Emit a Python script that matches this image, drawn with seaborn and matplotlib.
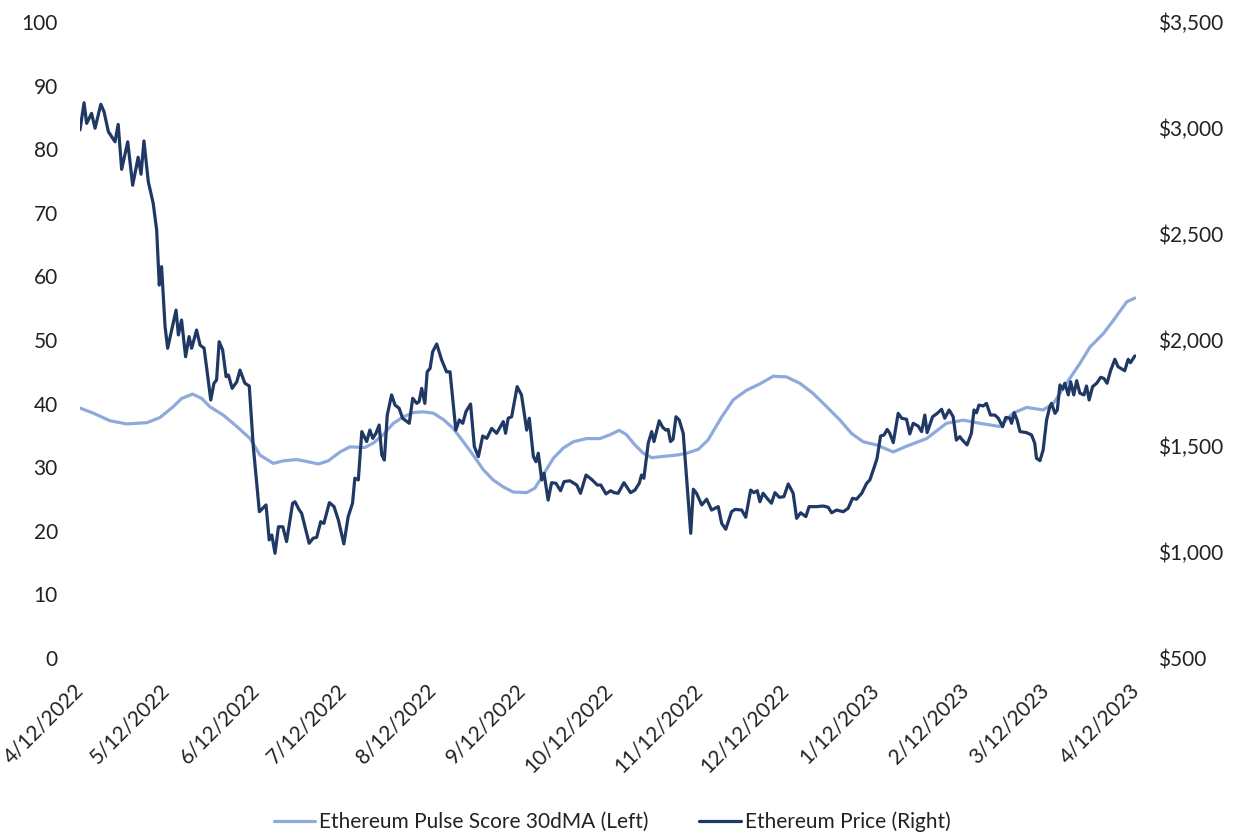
import pandas as pd
import matplotlib.pyplot as plt
import seaborn as sns

# Datos (dias desde 4/12/2022)
start = pd.Timestamp("2022-04-12")

price_day = [0, 1.4, 2.3, 4.0, 5.2, 7.2, 8.3, 9.8, 12.1, 13.2, 14.4, 16.5, 18.2, 20.1, 21.1, 22.1,
             23.6, 25.3, 26.5, 27.4, 28.2, 29.4, 30.3, 33.2, 34.0, 35.1, 36.5, 37.7, 38.6, 40.3,
             41.5, 42.9, 45.2, 46.3, 47.2, 48.1, 49.3, 50.5, 51.3, 52.6, 54.2, 55.3, 57.0, 58.5,
             59.9, 62.0, 64.3, 65.4, 66.3, 67.4, 68.6, 70.1, 71.4, 73.5, 74.3, 75.8, 76.6, 79.2,
             80.6, 81.8, 83.2, 84.3, 86.2, 87.8, 89.3, 91.2, 92.7, 94.2, 95.0, 96.2, 97.4, 99.1,
             100.2, 101.2, 102.3, 103.4, 104.3, 105.2, 106.2, 107.7, 108.9, 110.3, 111.5, 113.8,
             115.0, 116.4, 117.2, 118.1, 119.2, 120.0, 121.0, 121.9, 123.3, 125.0, 126.7, 127.9,
             129.9, 131.1, 132.3, 133.4, 135.0, 136.3, 137.7, 139.2, 140.6, 142.3, 144.0, 146.3,
             147.1, 148.0, 149.2, 151.1, 152.6, 154.4, 155.3, 156.7, 157.6, 158.4, 159.6, 160.4,
             161.8, 163.0, 164.5, 166.1, 167.3, 169.3, 171.7, 173.0, 174.9, 176.8, 178.8, 180.0,
             181.8, 183.4, 184.6, 186.0, 188.0, 190.3, 191.8, 193.3, 194.1, 194.9, 196.4, 197.6,
             198.4, 200.2, 201.4, 202.5, 203.3, 204.1, 205.0, 206.0, 207.1, 208.5, 211.1, 212.0,
             213.1, 214.9, 216.6, 218.3, 220.6, 221.8, 223.2, 225.2, 226.4, 228.7, 230.1, 231.8,
             232.9, 234.1, 235.0, 236.1, 237.5, 239.0, 240.2, 241.7, 243.3, 244.8, 246.5, 247.7,
             249.1, 250.9, 252.0, 254.6, 256.9, 258.6, 259.8, 261.5, 263.8, 265.5, 267.0, 268.4,
             270.2, 271.9, 273.0, 274.4, 275.5, 276.7, 277.9, 279.0, 279.9, 281.1, 282.8, 284.0,
             285.7, 286.8, 288.0, 289.7, 290.9, 292.0, 292.8, 294.7, 296.3, 297.8, 298.9, 300.4,
             301.8, 302.9, 304.1, 305.0, 306.6, 308.1, 309.0, 309.9, 310.7, 312.2, 313.3, 314.7,
             316.2, 317.4, 318.9, 320.0, 321.4, 322.0, 322.9, 323.9, 324.9, 327.2, 328.9, 330.0,
             330.6, 331.8, 332.9, 334.1, 335.2, 335.8, 337.0, 337.8, 338.7, 339.6, 340.4, 341.6,
             342.4, 343.5, 344.5, 345.6, 347.0, 347.9, 348.8, 350.0, 351.4, 352.8, 353.9, 355.0,
             356.2, 357.7, 358.8, 361.1, 362.3, 363.1, 364.6]

price = [2991, 3119, 3022, 3069, 2999, 3112, 3077, 2983, 2935, 3017, 2805, 2935, 2730, 2862, 2782, 2939,
         2747, 2645, 2519, 2259, 2346, 2063, 1961, 2141, 2024, 2094, 1921, 2016, 1961, 2047,
         1976, 1961, 1717, 1796, 1811, 1992, 1953, 1827, 1835, 1772, 1803, 1858, 1796, 1783,
         1497, 1190, 1222, 1057, 1080, 994, 1119, 1119, 1049, 1230, 1237, 1198, 1183, 1041,
         1065, 1069, 1143, 1135, 1233, 1214, 1151, 1038, 1167, 1230, 1348, 1340, 1568, 1521,
         1575, 1536, 1560, 1599, 1458, 1434, 1646, 1741, 1693, 1678, 1631, 1607,
         1725, 1701, 1709, 1772, 1701, 1850, 1866, 1945, 1981, 1906, 1850, 1850,
         1575, 1623, 1607, 1662, 1698, 1497, 1450, 1547, 1536, 1583, 1560, 1615,
         1560, 1631, 1638, 1780, 1741, 1575, 1631, 1450, 1426, 1466, 1340, 1371,
         1245, 1327, 1324, 1289, 1332, 1336, 1316, 1277, 1363, 1343, 1316, 1316,
         1274, 1289, 1280, 1277, 1327, 1280, 1292, 1324, 1363, 1348, 1513, 1568,
         1521, 1619, 1588, 1575, 1578, 1521, 1532, 1638, 1623, 1560, 1088, 1296,
         1277, 1222, 1249, 1198, 1214, 1135, 1107, 1190, 1201, 1198, 1164, 1292,
         1280, 1289, 1237, 1277, 1253, 1230, 1280, 1258, 1261, 1321, 1277, 1159,
         1185, 1167, 1214, 1214, 1217, 1211, 1185, 1198, 1190, 1206, 1253, 1249,
         1277, 1324, 1340, 1395, 1442, 1547, 1552, 1578, 1560, 1516, 1654, 1631,
         1626, 1557, 1607, 1594, 1568, 1646, 1563, 1638, 1654, 1673, 1631, 1670,
         1638, 1528, 1544, 1528, 1505, 1560, 1670, 1657, 1693, 1689, 1701, 1646,
         1646, 1631, 1591, 1635, 1631, 1607, 1657, 1623, 1568, 1563, 1552, 1513,
         1442, 1431, 1481, 1623, 1685, 1701, 1654, 1670, 1788, 1768, 1796, 1741,
         1803, 1741, 1808, 1749, 1741, 1783, 1717, 1780, 1796, 1824, 1819, 1796,
         1855, 1909, 1874, 1855, 1909, 1893, 1925]

pulse_day = [0, 4.6, 10.4, 16.1, 23.1, 27.6, 32.2, 35.1, 38.9, 42.1, 44.9, 49.5, 54.2, 58.8, 62.2,
             66.8, 70.3, 74.9, 78.3, 82.4, 85.8, 89.9, 93.3, 98.5, 101.4, 104.8, 108.3, 111.7,
             115.2, 118.6, 122.1, 125.6, 129.0, 132.5, 135.9, 139.4, 142.8, 146.3, 149.7, 154.4,
             157.2, 160.1, 163.6, 167.0, 170.5, 175.1, 179.7, 183.2, 186.4, 188.9, 191.8, 194.7,
             197.6, 201.6, 206.2, 209.7, 213.7, 217.1, 221.8, 225.8, 230.4, 235.0, 239.6, 244.2,
             248.8, 253.4, 258.1, 262.7, 266.7, 270.7, 275.3, 281.1, 285.7, 292.6, 299.5, 305.3,
             311.0, 317.9, 322.5, 327.2, 332.9, 336.4, 341.0, 345.6, 349.1, 353.7, 357.2, 361.8,
             364.6]

pulse = [39.3, 38.5, 37.3, 36.8, 37.0, 37.8, 39.5, 40.8, 41.5, 40.8, 39.5, 38.2, 36.4, 34.5, 31.9,
         30.6, 31.0, 31.2, 30.9, 30.5, 31.0, 32.4, 33.2, 33.1, 33.8, 35.1, 36.9, 37.9,
         38.6, 38.7, 38.5, 37.5, 36.1, 34.0, 31.9, 29.6, 28.0, 26.9, 26.1, 26.0,
         26.7, 28.8, 31.4, 33.0, 34.0, 34.5, 34.5, 35.1, 35.8, 35.1, 33.5, 32.2,
         31.5, 31.7, 31.9, 32.2, 32.8, 34.3, 37.9, 40.6, 42.1, 43.1, 44.3, 44.2,
         43.2, 41.6, 39.5, 37.4, 35.3, 34.0, 33.5, 32.4, 33.3, 34.5, 36.9, 37.4,
         36.9, 36.4, 38.5, 39.4, 39.0, 40.0, 43.2, 46.3, 48.9, 51.0, 53.1, 56.0,
         56.6]

tick_dates = [start + pd.DateOffset(months=i) for i in range(13)]
tick_labels = [f"{d.month}/{d.day}/{d.year}" for d in tick_dates]
left_ticks = list(range(0, 101, 10))
right_ticks = list(range(500, 3501, 500))

df_price = pd.DataFrame({"fecha": start + pd.to_timedelta(price_day, unit="D"), "precio": price})
df_pulse = pd.DataFrame({"fecha": start + pd.to_timedelta(pulse_day, unit="D"), "pulse": pulse})

sns.set_theme(style="white")
plt.rcParams["font.family"] = ["Lato", "DejaVu Sans"]

fig = plt.figure(figsize=(12.36, 8.38), dpi=100)
ax = fig.add_axes([80 / 1236, 1 - 658 / 838, 1056 / 1236, 636 / 838])
ax2 = ax.twinx()

sns.lineplot(data=df_pulse, x="fecha", y="pulse", ax=ax, color="#8EAADB", linewidth=2.3,
             estimator=None, sort=False, label="Ethereum Pulse Score 30dMA (Left)", legend=False)
sns.lineplot(data=df_price, x="fecha", y="precio", ax=ax2, color="#1F3864", linewidth=2.3,
             estimator=None, sort=False, label="Ethereum Price (Right)", legend=False)

ax.set_xlim(tick_dates[0], tick_dates[-1])
ax.set_ylim(0, 100)
ax2.set_ylim(500, 3500)
ax.set_yticks(left_ticks)
ax2.set_yticks(right_ticks)
ax2.set_yticklabels([f"${v:,}" for v in right_ticks])
ax.set_xticks(tick_dates)
ax.set_xticklabels(tick_labels, rotation=45, ha="right", va="center", rotation_mode="anchor")

for a in (ax, ax2):
    a.set_xlabel("")
    a.set_ylabel("")
    for s in a.spines.values():
        s.set_visible(False)
    a.grid(False)

ax.tick_params(axis="y", length=0, pad=16, labelsize=15, labelcolor="#222222")
ax2.tick_params(axis="y", length=0, pad=16, labelsize=15, labelcolor="#222222")
ax.tick_params(axis="x", length=0, pad=21, labelsize=15, labelcolor="#222222")

h1, l1 = ax.get_legend_handles_labels()
h2, l2 = ax2.get_legend_handles_labels()
fig.legend(h1 + h2, l1 + l2, loc="center", bbox_to_anchor=(612 / 1236, 1 - 822 / 838),
           ncol=2, frameon=False, fontsize=15, handlelength=2.0, handletextpad=0.2,
           columnspacing=2.4, labelcolor="#222222")

plt.savefig("out.png", dpi=100)
